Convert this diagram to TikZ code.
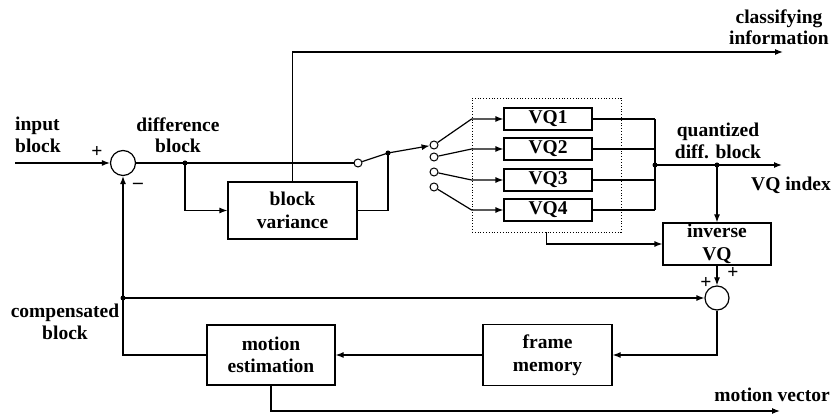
\documentclass[tikz,border=0pt]{standalone}
\usepackage{fontspec}
\setmainfont{Liberation Serif}
\usetikzlibrary{arrows.meta}
\begin{document}
\begin{tikzpicture}[x=1pt,y=-1pt,
  every node/.style={font=\fontsize{19.5}{21.5}\selectfont\bfseries},
  line/.style={line width=1.2pt},
  arr/.style={line width=1.2pt,-{Latex[length=8pt,width=6pt]}},
  blk/.style={draw,line width=1.2pt,rectangle,inner sep=0pt,align=center,font=\fontsize{19.5}{22.5}\selectfont\bfseries},
  sumc/.style={draw,circle,line width=1.2pt,minimum size=25pt,inner sep=0pt},
  oc/.style={draw,circle,line width=1pt,minimum size=8pt,inner sep=0pt,fill=white},
  dotn/.style={circle,fill,minimum size=5pt,inner sep=0pt},
  lbl/.style={align=center,inner sep=0pt}
]
\useasboundingbox (0,0) rectangle (833,419);

% blocks
\node[sumc] (s1) at (123,163) {};
\node[blk,minimum width=129pt,minimum height=57pt] (bv) at (292.5,210.5) {block\\variance};
\node[draw,dotted,line width=0.8pt,minimum width=149pt,minimum height=134pt,inner sep=0pt] (dbox) at (546.5,165) {};
\node[blk,minimum width=88pt,minimum height=22pt] (vq1) at (548,119) {VQ1};
\node[blk,minimum width=88pt,minimum height=22pt] (vq2) at (548,149) {VQ2};
\node[blk,minimum width=88pt,minimum height=22pt] (vq3) at (548,180) {VQ3};
\node[blk,minimum width=88pt,minimum height=22pt] (vq4) at (548,210) {VQ4};
\node[blk,minimum width=108pt,minimum height=42pt] (ivq) at (717,244) {inverse\\VQ};
\node[sumc,minimum size=24pt] (s2) at (717,298) {};
\node[blk,minimum width=129pt,minimum height=61pt] (fm) at (547.5,355) {frame\\memory};
\node[blk,minimum width=128pt,minimum height=60pt] (me) at (271,355) {motion\\estimation};

% switch contacts and junction dots
\node[oc] (sw) at (358,163) {};
\node[oc] (o1) at (434,145) {};
\node[oc] (o2) at (434,157) {};
\node[oc] (o3) at (434,172) {};
\node[oc] (o4) at (434,187) {};
\node[dotn] (d1) at (185,163) {};
\node[dotn] (d2) at (388,153) {};
\node[dotn] (d3) at (655,165) {};
\node[dotn] (d4) at (717,165) {};
\node[dotn] (d5) at (123,298) {};
\coordinate (inp) at (15,163);
\coordinate (ci) at (783,52);
\coordinate (vqo) at (782,165);
\coordinate (mvo) at (780,411);

% connectors
\draw[arr] (inp) -- (s1.west);
\draw[line] (s1.east) -- (sw.west);
\draw[arr] (d1.center) |- (bv.west);
\draw[arr] (bv.north) |- (ci);
\draw[line] (bv.east) -| (d2.center);
\draw[line] (sw) -- (d2.center);
\draw[arr] (d2.center) -- (o1);
\draw[arr] (o1) -- (vq1.west -| dbox.west) -- (vq1.west);
\draw[arr] (o2) -- (vq2.west -| dbox.west) -- (vq2.west);
\draw[arr] (o3) -- (vq3.west -| dbox.west) -- (vq3.west);
\draw[arr] (o4) -- (vq4.west -| dbox.west) -- (vq4.west);
\draw[line] (vq1.east) -- (vq1.east -| d3);
\draw[line] (vq2.east) -- (vq2.east -| d3);
\draw[line] (vq3.east) -- (vq3.east -| d3);
\draw[line] (vq4.east) -- (vq4.east -| d3);
\draw[line] (vq1.east -| d3) -- (vq4.east -| d3);
\draw[arr] (d3.center) -- (vqo);
\draw[arr] (d4.center) -- (ivq.north);
\draw[arr] (dbox.south) |- (ivq.west);
\draw[arr] (ivq.south) -- (s2.north);
\draw[arr] (d5.center) -- (s2.west);
\draw[arr] (s2.south) |- (fm.east);
\draw[arr] (fm.west) -- (me.east);
\draw[arr] (me.west) -| (s1.south);
\draw[arr] (me.south) |- (mvo);

% labels
\node[lbl,align=left,anchor=west] (linp) at (15,135) {input\\block};
\node[lbl] (ldiff) at (178,135) {difference\\block};
\node[lbl] (lp1) at (97,152) {+};
\node[lbl] (lm1) at (138,186) {–};
\node[lbl] (lcls) at (779,27) {classifying\\information};
\node[lbl] (lq) at (718,141) {quantized\\diff. block};
\node[lbl] (lvqi) at (791,185) {VQ index};
\node[lbl] (lcomp) at (65,322) {compensated\\block};
\node[lbl] (lp2) at (706,283) {+};
\node[lbl] (lp3) at (733,273) {+};
\node[lbl] (lmv) at (772,395) {motion vector};
\end{tikzpicture}
\end{document}
